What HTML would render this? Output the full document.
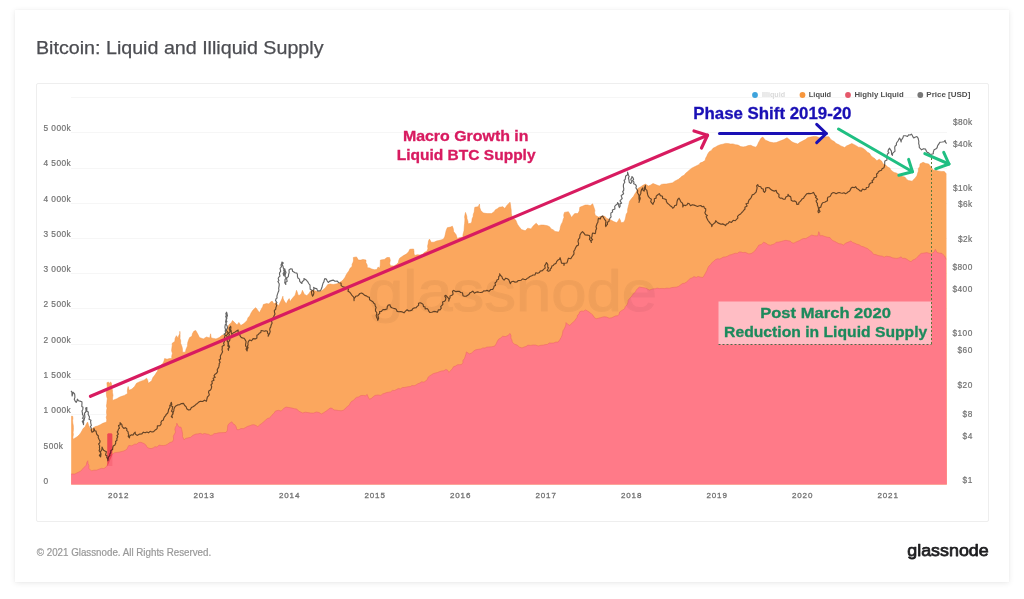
<!DOCTYPE html>
<html><head><meta charset="utf-8"><title>Bitcoin: Liquid and Illiquid Supply</title>
<style>
html,body{margin:0;padding:0}
body{width:1024px;height:599px;background:#fff;position:relative;overflow:hidden;font-family:"Liberation Sans",sans-serif}
.card{position:absolute;left:15px;top:10px;width:994px;height:572px;background:#fff;box-shadow:0 1px 6px rgba(0,0,0,0.09),0 0 1px rgba(0,0,0,0.05)}
.box{position:absolute;left:36px;top:83px;width:951px;height:437px;border:1px solid #eeeeee;border-radius:2px;background:#fff}
svg{position:absolute;left:0;top:0}
.sans{font-family:"Liberation Sans",sans-serif}
.ax{font-weight:normal;letter-spacing:0.42px;stroke:#737373;stroke-width:0.2px}
.axb{font-weight:normal;letter-spacing:0.85px;stroke:#727272;stroke-width:0.3px}
.lg{font-weight:bold}
</style></head><body>
<div class="card"></div>
<div class="box"></div>
<svg width="1024" height="599" viewBox="0 0 1024 599">
<text x="36" y="54" font-size="18.6" textLength="287.5" lengthAdjust="spacingAndGlyphs" fill="#4c4d52" stroke="#4c4d52" stroke-width="0.25" class="sans">Bitcoin: Liquid and Illiquid Supply</text>
<line x1="71" x2="947" y1="484.5" y2="484.5" stroke="#f6f6f6" stroke-width="1"/>
<line x1="71" x2="947" y1="449.5" y2="449.5" stroke="#f6f6f6" stroke-width="1"/>
<line x1="71" x2="947" y1="414.5" y2="414.5" stroke="#f6f6f6" stroke-width="1"/>
<line x1="71" x2="947" y1="379.5" y2="379.5" stroke="#f6f6f6" stroke-width="1"/>
<line x1="71" x2="947" y1="344.5" y2="344.5" stroke="#f6f6f6" stroke-width="1"/>
<line x1="71" x2="947" y1="308.5" y2="308.5" stroke="#f6f6f6" stroke-width="1"/>
<line x1="71" x2="947" y1="273.5" y2="273.5" stroke="#f6f6f6" stroke-width="1"/>
<line x1="71" x2="947" y1="238.5" y2="238.5" stroke="#f6f6f6" stroke-width="1"/>
<line x1="71" x2="947" y1="203.5" y2="203.5" stroke="#f6f6f6" stroke-width="1"/>
<line x1="71" x2="947" y1="168.5" y2="168.5" stroke="#f6f6f6" stroke-width="1"/>
<line x1="71" x2="947" y1="132.5" y2="132.5" stroke="#f6f6f6" stroke-width="1"/>
<line x1="71" x2="947" y1="97.5" y2="97.5" stroke="#f6f6f6" stroke-width="1"/>
<path d="M71.2,484.5 L71.2,416.3 L72.7,416.3 L72.9,418.4 L72.6,420.6 L72.8,423.1 L73.3,425.5 L73.4,427.7 L73.4,429.8 L73.1,432.5 L73.4,434.5 L72.9,437.2 L73.1,439.2 L75.3,437.9 L77.4,436.6 L79.3,434.8 L80.7,432.9 L81.9,430.9 L83.1,428.5 L85.0,427.1 L86.1,424.6 L87.6,422.0 L88.8,425.9 L90.8,429.7 L93.3,427.8 L95.4,426.6 L97.7,425.9 L100.3,424.7 L102.8,423.3 L106.6,422.0 L106.7,419.4 L106.2,417.2 L106.9,415.0 L106.5,412.8 L106.6,410.3 L107.0,408.2 L106.4,405.9 L106.8,403.7 L107.0,401.1 L107.3,398.7 L106.7,396.7 L106.4,394.2 L106.3,392.0 L107.1,389.7 L107.3,387.2 L107.1,385.1 L106.9,382.7 L108.5,382.0 L109.2,384.0 L110.4,382.0 L111.3,382.7 L111.6,385.1 L111.7,387.9 L112.4,390.0 L112.5,392.7 L113.0,395.3 L112.5,398.2 L112.7,400.5 L114.2,399.8 L116.9,398.7 L119.3,397.3 L121.8,396.3 L124.4,395.4 L127.6,393.5 L127.3,391.1 L127.6,388.6 L128.2,386.5 L129.1,390.3 L132.0,389.0 L134.6,386.5 L136.5,383.3 L140.3,381.4 L144.1,380.2 L146.6,378.2 L147.9,380.8 L148.3,383.3 L151.7,380.8 L152.9,377.6 L154.9,375.1 L156.0,373.3 L157.4,371.3 L158.2,368.9 L159.8,367.3 L161.0,365.0 L162.8,363.5 L164.0,361.1 L164.6,358.6 L167.1,359.2 L169.4,358.6 L171.8,358.6 L171.7,356.3 L172.4,353.3 L171.6,350.8 L171.8,348.4 L172.2,345.7 L172.2,343.3 L174.8,341.4 L175.1,338.4 L176.4,335.7 L178.2,338.2 L178.6,335.9 L179.8,333.8 L179.8,331.3 L180.0,333.7 L180.1,335.8 L180.0,338.6 L180.7,340.8 L180.6,343.3 L181.5,345.3 L182.2,347.6 L182.5,349.6 L182.4,352.2 L185.5,352.2 L185.9,349.8 L186.7,347.7 L187.5,345.9 L187.7,342.8 L188.5,340.2 L189.6,337.6 L191.9,336.3 L192.4,333.8 L193.8,331.3 L195.7,330.4 L197.6,333.8 L199.5,337.6 L203.3,338.9 L206.5,337.0 L209.7,338.0 L210.6,333.8 L211.2,338.0 L213.6,338.4 L216.0,338.9 L219.2,337.6 L222.4,335.1 L224.9,335.1 L225.9,332.1 L227.4,329.4 L228.2,326.6 L229.3,324.3 L231.2,322.9 L232.5,320.5 L235.1,323.0 L237.0,324.9 L238.9,322.4 L240.8,325.5 L243.9,323.6 L245.5,322.0 L247.1,320.5 L248.0,317.8 L249.7,316.0 L251.1,312.9 L252.8,310.3 L255.4,307.8 L256.0,307.9 L257.5,309.9 L259.4,312.8 L261.4,308.9 L262.7,306.7 L263.3,304.5 L266.7,303.5 L268.7,304.0 L270.1,302.4 L272.1,301.1 L274.1,304.0 L275.5,302.5 L277.0,304.0 L278.5,305.9 L279.7,303.3 L280.9,301.1 L281.9,298.9 L282.9,296.2 L283.2,298.9 L284.3,301.1 L286.3,304.0 L287.5,301.1 L289.2,298.6 L290.2,302.0 L291.1,300.0 L292.6,298.1 L295.1,295.2 L295.8,292.9 L296.5,290.3 L297.4,292.5 L298.0,295.2 L299.9,295.2 L301.5,293.2 L302.4,290.3 L304.3,294.2 L306.8,295.7 L309.2,293.2 L310.7,290.8 L313.6,290.3 L316.5,291.3 L319.5,291.8 L322.4,290.3 L325.3,287.9 L327.8,284.5 L330.2,284.0 L333.1,284.5 L336.1,284.0 L339.5,283.0 L340.0,282.3 L342.0,281.0 L343.6,279.3 L345.1,277.2 L346.1,275.0 L347.5,272.7 L348.9,270.9 L350.1,268.2 L352.1,266.4 L352.1,264.2 L353.2,262.0 L353.5,260.1 L353.3,257.5 L356.5,256.9 L358.4,260.1 L360.9,260.1 L362.9,259.4 L366.0,260.1 L365.9,262.6 L367.2,265.0 L367.3,267.7 L369.6,267.9 L371.7,269.0 L374.2,269.7 L376.8,269.6 L378.1,267.0 L379.6,268.3 L380.2,265.6 L380.3,263.0 L380.4,260.1 L384.4,259.4 L387.0,257.5 L389.5,257.5 L390.3,260.3 L389.7,263.2 L390.4,265.8 L394.0,266.0 L396.4,264.5 L398.4,262.6 L398.7,260.5 L399.7,258.2 L401.5,256.9 L403.5,255.6 L406.4,254.1 L408.6,251.8 L409.8,249.3 L413.6,249.0 L414.0,251.4 L414.0,253.3 L414.6,255.6 L417.3,254.7 L420.0,255.0 L422.5,254.3 L424.5,252.3 L427.0,251.2 L427.9,248.8 L427.6,246.1 L428.2,243.6 L428.5,241.0 L429.5,239.1 L431.2,242.3 L434.0,242.2 L436.5,241.0 L438.8,240.6 L441.1,239.9 L443.5,239.1 L444.8,236.5 L445.4,234.0 L446.1,230.7 L447.3,227.7 L450.4,227.1 L452.4,226.2 L453.3,228.8 L453.6,231.5 L456.0,234.6 L457.3,238.4 L460.1,237.4 L463.0,237.1 L462.9,235.0 L463.5,232.6 L464.0,230.7 L464.2,228.2 L464.3,226.2 L464.6,223.7 L464.8,221.2 L464.9,219.0 L464.6,217.0 L465.0,214.6 L465.5,212.4 L466.8,216.2 L467.0,218.8 L467.9,221.2 L468.1,223.8 L471.2,223.2 L471.9,221.2 L472.1,218.8 L473.1,216.8 L473.3,214.3 L474.2,212.1 L474.4,209.8 L474.8,207.3 L478.2,206.7 L479.5,204.1 L479.7,207.4 L480.8,210.5 L483.3,213.0 L487.1,213.6 L491.5,213.6 L494.1,211.7 L495.4,209.8 L497.4,208.7 L499.2,207.3 L503.0,206.7 L504.9,208.6 L506.8,205.4 L508.4,203.9 L510.0,202.2 L510.5,204.7 L510.8,207.5 L511.2,209.8 L511.3,213.2 L511.9,216.2 L513.5,218.3 L515.7,220.0 L516.7,222.4 L517.4,224.2 L518.8,226.3 L521.4,229.5 L525.2,230.8 L527.7,228.2 L530.9,228.9 L533.4,225.7 L536.2,223.2 L538.5,225.7 L541.0,225.0 L543.6,225.1 L547.4,225.7 L549.6,226.8 L551.2,228.9 L553.4,229.9 L555.0,231.4 L558.8,232.1 L559.9,229.9 L560.4,227.0 L561.2,224.4 L562.6,221.9 L563.2,219.4 L564.0,217.5 L563.7,215.0 L564.5,212.4 L568.4,211.7 L570.3,214.9 L571.5,217.5 L573.0,215.5 L574.7,213.6 L577.9,213.6 L579.4,210.8 L579.8,207.3 L583.0,206.0 L585.1,205.1 L587.7,205.0 L590.2,205.7 L592.7,203.8 L593.4,205.9 L594.2,208.2 L594.9,210.4 L594.6,212.6 L595.2,215.2 L598.4,217.1 L600.6,216.5 L602.9,215.9 L605.1,216.6 L606.7,218.4 L610.5,219.7 L613.6,221.6 L616.8,222.8 L618.2,220.7 L619.4,218.4 L620.6,220.7 L620.9,222.8 L623.8,222.2 L625.0,220.0 L625.7,217.1 L626.2,214.3 L627.6,212.1 L627.6,209.4 L628.3,206.4 L628.9,204.2 L629.5,201.3 L632.0,198.1 L633.6,196.3 L634.6,194.3 L635.9,192.4 L637.8,188.6 L640.9,186.7 L643.0,185.3 L645.4,184.1 L648.5,186.0 L650.8,184.9 L653.0,183.5 L656.2,184.8 L659.3,186.0 L661.4,184.4 L663.8,184.1 L666.4,184.0 L668.9,183.5 L672.7,182.8 L674.3,181.4 L676.5,180.3 L678.5,179.3 L680.3,177.8 L681.9,176.3 L684.1,175.2 L685.7,173.2 L687.9,171.4 L689.8,169.7 L691.7,168.2 L695.5,166.3 L699.3,164.4 L700.0,163.1 L702.6,162.1 L705.1,160.5 L705.7,158.1 L706.8,156.2 L707.6,154.2 L709.2,151.8 L711.4,150.4 L713.0,148.3 L715.2,147.2 L717.7,145.7 L720.3,144.7 L722.9,144.2 L725.4,143.4 L727.9,143.5 L730.5,144.0 L733.0,143.9 L735.5,144.7 L738.1,145.1 L740.6,146.6 L743.2,146.9 L745.7,146.6 L748.2,145.6 L750.8,145.3 L753.2,146.5 L755.9,147.2 L757.5,145.1 L758.4,142.8 L759.6,140.7 L760.9,138.3 L762.8,137.1 L765.4,140.2 L767.6,141.0 L769.8,142.1 L773.6,142.8 L776.2,142.6 L778.7,141.5 L781.2,140.6 L783.8,139.6 L787.0,137.7 L790.1,140.2 L791.9,141.8 L793.9,142.8 L797.8,144.0 L799.6,142.6 L801.6,141.5 L805.4,139.6 L807.7,137.7 L810.4,137.1 L814.3,136.4 L816.9,136.7 L819.3,137.7 L821.8,136.9 L824.4,137.1 L826.7,136.7 L829.0,136.8 L830.3,139.0 L832.2,140.4 L834.3,141.6 L836.1,143.5 L838.6,144.5 L840.8,145.9 L844.7,147.5 L846.5,145.9 L848.6,145.1 L851.8,143.5 L854.3,144.7 L856.5,145.9 L858.4,147.2 L860.8,147.4 L862.8,148.2 L865.3,150.0 L867.5,152.2 L869.5,153.3 L870.7,155.3 L872.2,156.9 L874.8,158.6 L876.9,160.8 L879.2,159.2 L881.6,161.1 L883.1,163.9 L885.7,165.1 L887.8,167.1 L889.8,168.0 L891.0,170.2 L894.1,172.5 L896.3,173.0 L898.3,174.2 L900.4,174.9 L902.6,176.4 L905.1,177.2 L906.5,179.2 L908.2,180.4 L912.2,181.2 L913.7,179.4 L915.3,178.0 L916.9,175.7 L917.6,173.3 L918.4,171.1 L918.3,168.7 L919.8,166.4 L920.0,163.9 L923.1,162.3 L925.8,163.5 L928.6,163.9 L931.0,167.1 L933.3,170.2 L935.7,170.2 L938.0,171.0 L941.1,171.4 L944.3,171.5 L946.4,174.1 L946.8,484.5Z" fill="#fba75e"/>
<path d="M71.2,416.3 L72.7,416.3 L72.9,418.4 L72.6,420.6 L72.8,423.1 L73.3,425.5 L73.4,427.7 L73.4,429.8 L73.1,432.5 L73.4,434.5 L72.9,437.2 L73.1,439.2 L75.3,437.9 L77.4,436.6 L79.3,434.8 L80.7,432.9 L81.9,430.9 L83.1,428.5 L85.0,427.1 L86.1,424.6 L87.6,422.0 L88.8,425.9 L90.8,429.7 L93.3,427.8 L95.4,426.6 L97.7,425.9 L100.3,424.7 L102.8,423.3 L106.6,422.0 L106.7,419.4 L106.2,417.2 L106.9,415.0 L106.5,412.8 L106.6,410.3 L107.0,408.2 L106.4,405.9 L106.8,403.7 L107.0,401.1 L107.3,398.7 L106.7,396.7 L106.4,394.2 L106.3,392.0 L107.1,389.7 L107.3,387.2 L107.1,385.1 L106.9,382.7 L108.5,382.0 L109.2,384.0 L110.4,382.0 L111.3,382.7 L111.6,385.1 L111.7,387.9 L112.4,390.0 L112.5,392.7 L113.0,395.3 L112.5,398.2 L112.7,400.5 L114.2,399.8 L116.9,398.7 L119.3,397.3 L121.8,396.3 L124.4,395.4 L127.6,393.5 L127.3,391.1 L127.6,388.6 L128.2,386.5 L129.1,390.3 L132.0,389.0 L134.6,386.5 L136.5,383.3 L140.3,381.4 L144.1,380.2 L146.6,378.2 L147.9,380.8 L148.3,383.3 L151.7,380.8 L152.9,377.6 L154.9,375.1 L156.0,373.3 L157.4,371.3 L158.2,368.9 L159.8,367.3 L161.0,365.0 L162.8,363.5 L164.0,361.1 L164.6,358.6 L167.1,359.2 L169.4,358.6 L171.8,358.6 L171.7,356.3 L172.4,353.3 L171.6,350.8 L171.8,348.4 L172.2,345.7 L172.2,343.3 L174.8,341.4 L175.1,338.4 L176.4,335.7 L178.2,338.2 L178.6,335.9 L179.8,333.8 L179.8,331.3 L180.0,333.7 L180.1,335.8 L180.0,338.6 L180.7,340.8 L180.6,343.3 L181.5,345.3 L182.2,347.6 L182.5,349.6 L182.4,352.2 L185.5,352.2 L185.9,349.8 L186.7,347.7 L187.5,345.9 L187.7,342.8 L188.5,340.2 L189.6,337.6 L191.9,336.3 L192.4,333.8 L193.8,331.3 L195.7,330.4 L197.6,333.8 L199.5,337.6 L203.3,338.9 L206.5,337.0 L209.7,338.0 L210.6,333.8 L211.2,338.0 L213.6,338.4 L216.0,338.9 L219.2,337.6 L222.4,335.1 L224.9,335.1 L225.9,332.1 L227.4,329.4 L228.2,326.6 L229.3,324.3 L231.2,322.9 L232.5,320.5 L235.1,323.0 L237.0,324.9 L238.9,322.4 L240.8,325.5 L243.9,323.6 L245.5,322.0 L247.1,320.5 L248.0,317.8 L249.7,316.0 L251.1,312.9 L252.8,310.3 L255.4,307.8 L256.0,307.9 L257.5,309.9 L259.4,312.8 L261.4,308.9 L262.7,306.7 L263.3,304.5 L266.7,303.5 L268.7,304.0 L270.1,302.4 L272.1,301.1 L274.1,304.0 L275.5,302.5 L277.0,304.0 L278.5,305.9 L279.7,303.3 L280.9,301.1 L281.9,298.9 L282.9,296.2 L283.2,298.9 L284.3,301.1 L286.3,304.0 L287.5,301.1 L289.2,298.6 L290.2,302.0 L291.1,300.0 L292.6,298.1 L295.1,295.2 L295.8,292.9 L296.5,290.3 L297.4,292.5 L298.0,295.2 L299.9,295.2 L301.5,293.2 L302.4,290.3 L304.3,294.2 L306.8,295.7 L309.2,293.2 L310.7,290.8 L313.6,290.3 L316.5,291.3 L319.5,291.8 L322.4,290.3 L325.3,287.9 L327.8,284.5 L330.2,284.0 L333.1,284.5 L336.1,284.0 L339.5,283.0 L340.0,282.3 L342.0,281.0 L343.6,279.3 L345.1,277.2 L346.1,275.0 L347.5,272.7 L348.9,270.9 L350.1,268.2 L352.1,266.4 L352.1,264.2 L353.2,262.0 L353.5,260.1 L353.3,257.5 L356.5,256.9 L358.4,260.1 L360.9,260.1 L362.9,259.4 L366.0,260.1 L365.9,262.6 L367.2,265.0 L367.3,267.7 L369.6,267.9 L371.7,269.0 L374.2,269.7 L376.8,269.6 L378.1,267.0 L379.6,268.3 L380.2,265.6 L380.3,263.0 L380.4,260.1 L384.4,259.4 L387.0,257.5 L389.5,257.5 L390.3,260.3 L389.7,263.2 L390.4,265.8 L394.0,266.0 L396.4,264.5 L398.4,262.6 L398.7,260.5 L399.7,258.2 L401.5,256.9 L403.5,255.6 L406.4,254.1 L408.6,251.8 L409.8,249.3 L413.6,249.0 L414.0,251.4 L414.0,253.3 L414.6,255.6 L417.3,254.7 L420.0,255.0 L422.5,254.3 L424.5,252.3 L427.0,251.2 L427.9,248.8 L427.6,246.1 L428.2,243.6 L428.5,241.0 L429.5,239.1 L431.2,242.3 L434.0,242.2 L436.5,241.0 L438.8,240.6 L441.1,239.9 L443.5,239.1 L444.8,236.5 L445.4,234.0 L446.1,230.7 L447.3,227.7 L450.4,227.1 L452.4,226.2 L453.3,228.8 L453.6,231.5 L456.0,234.6 L457.3,238.4 L460.1,237.4 L463.0,237.1 L462.9,235.0 L463.5,232.6 L464.0,230.7 L464.2,228.2 L464.3,226.2 L464.6,223.7 L464.8,221.2 L464.9,219.0 L464.6,217.0 L465.0,214.6 L465.5,212.4 L466.8,216.2 L467.0,218.8 L467.9,221.2 L468.1,223.8 L471.2,223.2 L471.9,221.2 L472.1,218.8 L473.1,216.8 L473.3,214.3 L474.2,212.1 L474.4,209.8 L474.8,207.3 L478.2,206.7 L479.5,204.1 L479.7,207.4 L480.8,210.5 L483.3,213.0 L487.1,213.6 L491.5,213.6 L494.1,211.7 L495.4,209.8 L497.4,208.7 L499.2,207.3 L503.0,206.7 L504.9,208.6 L506.8,205.4 L508.4,203.9 L510.0,202.2 L510.5,204.7 L510.8,207.5 L511.2,209.8 L511.3,213.2 L511.9,216.2 L513.5,218.3 L515.7,220.0 L516.7,222.4 L517.4,224.2 L518.8,226.3 L521.4,229.5 L525.2,230.8 L527.7,228.2 L530.9,228.9 L533.4,225.7 L536.2,223.2 L538.5,225.7 L541.0,225.0 L543.6,225.1 L547.4,225.7 L549.6,226.8 L551.2,228.9 L553.4,229.9 L555.0,231.4 L558.8,232.1 L559.9,229.9 L560.4,227.0 L561.2,224.4 L562.6,221.9 L563.2,219.4 L564.0,217.5 L563.7,215.0 L564.5,212.4 L568.4,211.7 L570.3,214.9 L571.5,217.5 L573.0,215.5 L574.7,213.6 L577.9,213.6 L579.4,210.8 L579.8,207.3 L583.0,206.0 L585.1,205.1 L587.7,205.0 L590.2,205.7 L592.7,203.8 L593.4,205.9 L594.2,208.2 L594.9,210.4 L594.6,212.6 L595.2,215.2 L598.4,217.1 L600.6,216.5 L602.9,215.9 L605.1,216.6 L606.7,218.4 L610.5,219.7 L613.6,221.6 L616.8,222.8 L618.2,220.7 L619.4,218.4 L620.6,220.7 L620.9,222.8 L623.8,222.2 L625.0,220.0 L625.7,217.1 L626.2,214.3 L627.6,212.1 L627.6,209.4 L628.3,206.4 L628.9,204.2 L629.5,201.3 L632.0,198.1 L633.6,196.3 L634.6,194.3 L635.9,192.4 L637.8,188.6 L640.9,186.7 L643.0,185.3 L645.4,184.1 L648.5,186.0 L650.8,184.9 L653.0,183.5 L656.2,184.8 L659.3,186.0 L661.4,184.4 L663.8,184.1 L666.4,184.0 L668.9,183.5 L672.7,182.8 L674.3,181.4 L676.5,180.3 L678.5,179.3 L680.3,177.8 L681.9,176.3 L684.1,175.2 L685.7,173.2 L687.9,171.4 L689.8,169.7 L691.7,168.2 L695.5,166.3 L699.3,164.4 L700.0,163.1 L702.6,162.1 L705.1,160.5 L705.7,158.1 L706.8,156.2 L707.6,154.2 L709.2,151.8 L711.4,150.4 L713.0,148.3 L715.2,147.2 L717.7,145.7 L720.3,144.7 L722.9,144.2 L725.4,143.4 L727.9,143.5 L730.5,144.0 L733.0,143.9 L735.5,144.7 L738.1,145.1 L740.6,146.6 L743.2,146.9 L745.7,146.6 L748.2,145.6 L750.8,145.3 L753.2,146.5 L755.9,147.2 L757.5,145.1 L758.4,142.8 L759.6,140.7 L760.9,138.3 L762.8,137.1 L765.4,140.2 L767.6,141.0 L769.8,142.1 L773.6,142.8 L776.2,142.6 L778.7,141.5 L781.2,140.6 L783.8,139.6 L787.0,137.7 L790.1,140.2 L791.9,141.8 L793.9,142.8 L797.8,144.0 L799.6,142.6 L801.6,141.5 L805.4,139.6 L807.7,137.7 L810.4,137.1 L814.3,136.4 L816.9,136.7 L819.3,137.7 L821.8,136.9 L824.4,137.1 L826.7,136.7 L829.0,136.8 L830.3,139.0 L832.2,140.4 L834.3,141.6 L836.1,143.5 L838.6,144.5 L840.8,145.9 L844.7,147.5 L846.5,145.9 L848.6,145.1 L851.8,143.5 L854.3,144.7 L856.5,145.9 L858.4,147.2 L860.8,147.4 L862.8,148.2 L865.3,150.0 L867.5,152.2 L869.5,153.3 L870.7,155.3 L872.2,156.9 L874.8,158.6 L876.9,160.8 L879.2,159.2 L881.6,161.1 L883.1,163.9 L885.7,165.1 L887.8,167.1 L889.8,168.0 L891.0,170.2 L894.1,172.5 L896.3,173.0 L898.3,174.2 L900.4,174.9 L902.6,176.4 L905.1,177.2 L906.5,179.2 L908.2,180.4 L912.2,181.2 L913.7,179.4 L915.3,178.0 L916.9,175.7 L917.6,173.3 L918.4,171.1 L918.3,168.7 L919.8,166.4 L920.0,163.9 L923.1,162.3 L925.8,163.5 L928.6,163.9 L931.0,167.1 L933.3,170.2 L935.7,170.2 L938.0,171.0 L941.1,171.4 L944.3,171.5 L946.4,174.1" fill="none" stroke="#f0954a" stroke-width="0.7" stroke-opacity="0.7" stroke-linejoin="round"/>
<path d="M71.2,484.5 L71.2,474.0 L74.9,474.0 L76.8,473.0 L78.7,472.1 L80.9,471.0 L82.5,469.0 L84.4,467.1 L86.3,465.1 L86.7,462.8 L87.8,460.7 L88.0,463.4 L89.0,465.6 L88.8,468.3 L91.4,470.9 L93.9,470.2 L96.5,470.2 L99.1,469.2 L101.5,468.3 L103.9,468.6 L106.0,467.1 L107.3,465.1 L108.5,463.1 L108.9,460.3 L110.3,458.4 L110.9,456.2 L112.3,454.4 L114.3,452.8 L116.8,452.4 L118.9,452.2 L121.0,451.7 L123.1,451.2 L125.0,450.4 L126.9,449.3 L127.8,447.2 L128.8,445.5 L131.8,445.8 L134.6,444.2 L136.8,444.1 L138.7,442.5 L140.9,442.3 L144.1,443.6 L145.9,445.0 L147.2,447.4 L149.1,448.3 L151.1,448.6 L153.2,448.0 L154.9,446.7 L157.1,447.1 L159.0,445.1 L161.2,445.5 L163.4,445.6 L165.6,445.2 L167.6,444.2 L169.9,442.5 L172.6,441.7 L173.6,439.1 L173.3,436.3 L174.5,434.0 L175.5,432.1 L174.9,429.4 L175.4,427.2 L176.7,425.3 L176.8,423.2 L177.8,425.2 L179.0,427.1 L180.9,427.1 L181.7,429.6 L182.2,431.9 L182.6,434.1 L182.5,436.6 L184.1,439.8 L185.8,438.3 L187.9,437.9 L190.7,437.3 L193.0,435.3 L196.0,434.0 L198.1,433.9 L200.2,433.3 L202.4,434.2 L204.5,433.5 L206.6,434.0 L208.5,434.3 L210.4,435.4 L212.5,435.0 L214.2,433.6 L216.2,433.5 L218.6,432.8 L221.1,432.7 L223.5,432.6 L226.0,432.5 L227.3,430.5 L227.5,428.4 L227.8,425.5 L228.9,423.7 L231.9,421.8 L233.0,423.8 L234.8,424.7 L236.1,426.8 L236.8,429.6 L239.0,429.7 L241.0,428.5 L243.4,428.7 L245.5,427.6 L247.7,426.3 L250.0,425.7 L251.8,424.9 L253.9,424.7 L256.0,425.5 L257.8,426.7 L259.6,425.0 L261.8,423.4 L263.7,421.8 L265.4,420.3 L267.3,418.6 L269.5,417.9 L271.0,416.5 L272.6,414.4 L274.3,412.9 L275.4,411.1 L278.3,410.3 L281.2,411.1 L282.8,409.4 L284.2,408.0 L286.1,407.1 L289.0,407.5 L292.0,408.1 L294.5,408.7 L296.9,409.1 L298.5,411.0 L300.6,412.0 L302.7,413.0 L305.3,412.2 L307.9,412.6 L310.5,413.0 L313.5,413.1 L316.4,412.0 L319.1,412.5 L321.3,414.0 L323.7,412.7 L326.2,411.1 L328.0,409.7 L330.1,408.1 L332.2,408.3 L333.9,410.0 L335.9,410.1 L338.5,410.5 L341.1,410.8 L343.8,410.1 L345.6,408.1 L347.7,406.2 L349.4,405.1 L350.2,403.1 L351.6,401.3 L353.5,400.4 L354.9,398.7 L356.4,397.4 L358.7,396.9 L360.8,395.6 L363.3,395.4 L365.4,395.8 L367.2,394.5 L368.1,397.0 L369.5,399.3 L371.5,398.3 L373.1,396.9 L375.0,395.4 L377.9,395.0 L380.9,395.4 L382.6,394.0 L384.8,393.3 L386.7,392.5 L388.7,392.2 L390.6,391.9 L392.5,390.4 L394.5,390.5 L396.4,389.6 L398.3,388.5 L400.5,388.9 L402.3,387.6 L404.9,387.4 L407.5,386.8 L410.2,386.6 L412.0,385.5 L414.2,385.8 L416.2,384.8 L418.0,383.7 L420.0,383.0 L421.7,381.8 L424.0,382.2 L425.8,380.8 L427.3,379.6 L428.2,377.1 L429.7,375.9 L431.6,374.7 L433.4,373.6 L435.5,373.0 L437.5,372.5 L439.4,371.7 L441.4,371.0 L443.8,370.8 L445.9,369.5 L447.7,370.3 L448.8,372.4 L450.8,370.5 L452.3,368.8 L453.7,366.6 L455.6,366.0 L457.4,364.8 L459.5,364.7 L461.5,364.6 L462.9,362.7 L463.0,360.2 L464.4,358.8 L465.2,356.5 L465.9,354.3 L466.4,351.9 L469.3,353.9 L471.5,353.2 L473.4,351.3 L475.2,350.0 L478.1,349.3 L481.0,349.0 L482.8,347.9 L485.0,348.1 L486.8,347.1 L488.8,347.0 L491.8,346.8 L494.7,346.1 L496.1,344.0 L497.2,341.6 L498.6,339.2 L500.9,337.9 L502.5,336.3 L505.5,336.5 L508.4,335.3 L509.9,333.4 L511.0,335.4 L510.9,338.1 L511.9,339.9 L512.3,342.1 L514.4,344.2 L517.1,345.1 L519.3,347.0 L522.0,348.0 L524.1,347.0 L526.1,346.5 L527.9,345.1 L530.5,345.4 L533.1,345.0 L535.7,345.1 L538.3,346.0 L540.9,345.3 L543.5,345.1 L545.4,344.6 L547.5,344.4 L549.2,343.0 L551.3,343.1 L553.6,343.0 L555.9,342.1 L558.2,342.1 L559.8,339.7 L561.1,337.5 L562.1,335.3 L562.5,333.3 L563.0,330.7 L564.1,329.1 L565.1,327.1 L565.9,324.9 L566.0,322.6 L567.6,324.2 L569.9,325.5 L571.3,323.7 L573.0,322.3 L574.8,320.7 L575.9,319.0 L577.1,317.4 L577.5,315.2 L579.0,314.1 L579.6,311.9 L581.4,311.1 L583.7,311.2 L585.5,309.9 L587.9,311.3 L590.4,312.9 L591.8,314.3 L593.2,315.6 L594.4,317.7 L596.2,318.7 L598.2,318.3 L600.2,317.8 L602.2,317.2 L604.1,316.8 L606.7,317.1 L609.2,318.2 L611.9,317.7 L613.7,316.8 L615.6,315.9 L617.7,315.8 L619.1,314.3 L619.7,311.9 L622.1,310.3 L624.6,308.9 L625.2,306.7 L627.1,304.7 L627.9,302.5 L628.2,300.2 L629.5,298.5 L631.1,297.0 L632.3,295.3 L633.5,293.6 L635.3,292.2 L636.3,290.2 L637.8,288.4 L639.5,287.1 L642.4,287.6 L645.4,288.1 L647.4,288.9 L649.3,290.1 L651.3,289.4 L653.1,288.8 L655.2,288.8 L657.1,288.1 L659.5,288.6 L662.0,288.4 L664.5,288.6 L666.9,288.1 L669.4,288.3 L671.7,287.6 L674.1,287.3 L676.6,287.1 L678.8,286.3 L680.4,285.0 L682.4,283.6 L684.5,283.2 L686.7,281.9 L688.6,280.0 L690.3,278.4 L692.2,277.9 L694.0,276.6 L696.2,277.4 L698.1,276.4 L700.4,277.2 L703.0,277.4 L704.3,275.3 L705.6,272.9 L706.9,270.5 L707.8,268.1 L708.9,266.0 L710.6,264.7 L711.8,262.7 L713.8,261.2 L715.5,259.6 L717.7,258.8 L719.8,259.1 L721.7,258.1 L723.4,257.1 L725.5,256.9 L727.4,256.3 L729.3,255.2 L731.4,254.6 L733.3,253.9 L735.3,253.2 L737.3,253.4 L739.1,252.0 L741.1,252.0 L743.0,252.7 L745.1,252.3 L746.9,253.1 L748.9,253.9 L751.1,253.6 L753.0,252.4 L754.8,251.0 L756.2,249.1 L757.5,247.2 L758.7,245.2 L761.5,244.4 L763.6,242.2 L766.0,243.2 L768.0,244.7 L770.4,245.2 L772.5,244.5 L774.5,243.9 L776.2,242.2 L778.7,242.1 L781.2,241.5 L783.6,240.8 L786.0,240.3 L788.0,240.8 L790.1,241.1 L791.8,242.7 L793.8,243.2 L795.6,242.2 L797.8,241.3 L799.7,240.5 L801.6,239.3 L803.6,238.5 L805.8,238.6 L807.6,237.5 L809.5,236.4 L811.7,235.1 L814.6,235.8 L817.6,235.9 L818.3,234.0 L818.7,231.7 L819.7,233.6 L820.0,235.9 L822.1,235.5 L824.0,236.2 L826.1,236.9 L828.0,237.3 L830.0,237.6 L831.3,239.4 L833.0,240.7 L834.9,241.4 L836.8,242.6 L839.0,243.7 L841.4,244.0 L843.4,245.1 L845.1,243.6 L847.0,242.6 L849.2,241.8 L851.0,240.9 L852.6,242.5 L854.8,243.2 L856.8,244.2 L859.1,244.8 L861.2,246.2 L863.5,246.8 L865.6,247.8 L867.5,248.5 L869.3,250.1 L871.6,251.7 L873.5,254.3 L875.8,254.6 L878.0,255.5 L880.2,255.9 L882.2,256.1 L884.1,257.2 L886.2,256.2 L888.2,256.5 L890.2,256.8 L892.3,257.8 L894.7,258.2 L896.9,258.4 L899.1,257.9 L901.0,256.8 L902.7,258.4 L904.9,258.3 L906.9,259.3 L908.9,260.7 L911.1,261.8 L912.6,260.1 L914.5,259.4 L916.1,258.4 L917.7,256.8 L919.4,254.9 L921.1,253.4 L924.0,253.1 L926.9,252.6 L929.3,253.4 L931.9,253.4 L934.1,252.1 L935.3,249.3 L937.0,252.6 L939.5,253.1 L942.0,253.4 L944.5,255.9 L946.1,259.3 L946.8,484.5Z" fill="#ff7a88"/>
<path d="M71.2,474.0 L74.9,474.0 L76.8,473.0 L78.7,472.1 L80.9,471.0 L82.5,469.0 L84.4,467.1 L86.3,465.1 L86.7,462.8 L87.8,460.7 L88.0,463.4 L89.0,465.6 L88.8,468.3 L91.4,470.9 L93.9,470.2 L96.5,470.2 L99.1,469.2 L101.5,468.3 L103.9,468.6 L106.0,467.1 L107.3,465.1 L108.5,463.1 L108.9,460.3 L110.3,458.4 L110.9,456.2 L112.3,454.4 L114.3,452.8 L116.8,452.4 L118.9,452.2 L121.0,451.7 L123.1,451.2 L125.0,450.4 L126.9,449.3 L127.8,447.2 L128.8,445.5 L131.8,445.8 L134.6,444.2 L136.8,444.1 L138.7,442.5 L140.9,442.3 L144.1,443.6 L145.9,445.0 L147.2,447.4 L149.1,448.3 L151.1,448.6 L153.2,448.0 L154.9,446.7 L157.1,447.1 L159.0,445.1 L161.2,445.5 L163.4,445.6 L165.6,445.2 L167.6,444.2 L169.9,442.5 L172.6,441.7 L173.6,439.1 L173.3,436.3 L174.5,434.0 L175.5,432.1 L174.9,429.4 L175.4,427.2 L176.7,425.3 L176.8,423.2 L177.8,425.2 L179.0,427.1 L180.9,427.1 L181.7,429.6 L182.2,431.9 L182.6,434.1 L182.5,436.6 L184.1,439.8 L185.8,438.3 L187.9,437.9 L190.7,437.3 L193.0,435.3 L196.0,434.0 L198.1,433.9 L200.2,433.3 L202.4,434.2 L204.5,433.5 L206.6,434.0 L208.5,434.3 L210.4,435.4 L212.5,435.0 L214.2,433.6 L216.2,433.5 L218.6,432.8 L221.1,432.7 L223.5,432.6 L226.0,432.5 L227.3,430.5 L227.5,428.4 L227.8,425.5 L228.9,423.7 L231.9,421.8 L233.0,423.8 L234.8,424.7 L236.1,426.8 L236.8,429.6 L239.0,429.7 L241.0,428.5 L243.4,428.7 L245.5,427.6 L247.7,426.3 L250.0,425.7 L251.8,424.9 L253.9,424.7 L256.0,425.5 L257.8,426.7 L259.6,425.0 L261.8,423.4 L263.7,421.8 L265.4,420.3 L267.3,418.6 L269.5,417.9 L271.0,416.5 L272.6,414.4 L274.3,412.9 L275.4,411.1 L278.3,410.3 L281.2,411.1 L282.8,409.4 L284.2,408.0 L286.1,407.1 L289.0,407.5 L292.0,408.1 L294.5,408.7 L296.9,409.1 L298.5,411.0 L300.6,412.0 L302.7,413.0 L305.3,412.2 L307.9,412.6 L310.5,413.0 L313.5,413.1 L316.4,412.0 L319.1,412.5 L321.3,414.0 L323.7,412.7 L326.2,411.1 L328.0,409.7 L330.1,408.1 L332.2,408.3 L333.9,410.0 L335.9,410.1 L338.5,410.5 L341.1,410.8 L343.8,410.1 L345.6,408.1 L347.7,406.2 L349.4,405.1 L350.2,403.1 L351.6,401.3 L353.5,400.4 L354.9,398.7 L356.4,397.4 L358.7,396.9 L360.8,395.6 L363.3,395.4 L365.4,395.8 L367.2,394.5 L368.1,397.0 L369.5,399.3 L371.5,398.3 L373.1,396.9 L375.0,395.4 L377.9,395.0 L380.9,395.4 L382.6,394.0 L384.8,393.3 L386.7,392.5 L388.7,392.2 L390.6,391.9 L392.5,390.4 L394.5,390.5 L396.4,389.6 L398.3,388.5 L400.5,388.9 L402.3,387.6 L404.9,387.4 L407.5,386.8 L410.2,386.6 L412.0,385.5 L414.2,385.8 L416.2,384.8 L418.0,383.7 L420.0,383.0 L421.7,381.8 L424.0,382.2 L425.8,380.8 L427.3,379.6 L428.2,377.1 L429.7,375.9 L431.6,374.7 L433.4,373.6 L435.5,373.0 L437.5,372.5 L439.4,371.7 L441.4,371.0 L443.8,370.8 L445.9,369.5 L447.7,370.3 L448.8,372.4 L450.8,370.5 L452.3,368.8 L453.7,366.6 L455.6,366.0 L457.4,364.8 L459.5,364.7 L461.5,364.6 L462.9,362.7 L463.0,360.2 L464.4,358.8 L465.2,356.5 L465.9,354.3 L466.4,351.9 L469.3,353.9 L471.5,353.2 L473.4,351.3 L475.2,350.0 L478.1,349.3 L481.0,349.0 L482.8,347.9 L485.0,348.1 L486.8,347.1 L488.8,347.0 L491.8,346.8 L494.7,346.1 L496.1,344.0 L497.2,341.6 L498.6,339.2 L500.9,337.9 L502.5,336.3 L505.5,336.5 L508.4,335.3 L509.9,333.4 L511.0,335.4 L510.9,338.1 L511.9,339.9 L512.3,342.1 L514.4,344.2 L517.1,345.1 L519.3,347.0 L522.0,348.0 L524.1,347.0 L526.1,346.5 L527.9,345.1 L530.5,345.4 L533.1,345.0 L535.7,345.1 L538.3,346.0 L540.9,345.3 L543.5,345.1 L545.4,344.6 L547.5,344.4 L549.2,343.0 L551.3,343.1 L553.6,343.0 L555.9,342.1 L558.2,342.1 L559.8,339.7 L561.1,337.5 L562.1,335.3 L562.5,333.3 L563.0,330.7 L564.1,329.1 L565.1,327.1 L565.9,324.9 L566.0,322.6 L567.6,324.2 L569.9,325.5 L571.3,323.7 L573.0,322.3 L574.8,320.7 L575.9,319.0 L577.1,317.4 L577.5,315.2 L579.0,314.1 L579.6,311.9 L581.4,311.1 L583.7,311.2 L585.5,309.9 L587.9,311.3 L590.4,312.9 L591.8,314.3 L593.2,315.6 L594.4,317.7 L596.2,318.7 L598.2,318.3 L600.2,317.8 L602.2,317.2 L604.1,316.8 L606.7,317.1 L609.2,318.2 L611.9,317.7 L613.7,316.8 L615.6,315.9 L617.7,315.8 L619.1,314.3 L619.7,311.9 L622.1,310.3 L624.6,308.9 L625.2,306.7 L627.1,304.7 L627.9,302.5 L628.2,300.2 L629.5,298.5 L631.1,297.0 L632.3,295.3 L633.5,293.6 L635.3,292.2 L636.3,290.2 L637.8,288.4 L639.5,287.1 L642.4,287.6 L645.4,288.1 L647.4,288.9 L649.3,290.1 L651.3,289.4 L653.1,288.8 L655.2,288.8 L657.1,288.1 L659.5,288.6 L662.0,288.4 L664.5,288.6 L666.9,288.1 L669.4,288.3 L671.7,287.6 L674.1,287.3 L676.6,287.1 L678.8,286.3 L680.4,285.0 L682.4,283.6 L684.5,283.2 L686.7,281.9 L688.6,280.0 L690.3,278.4 L692.2,277.9 L694.0,276.6 L696.2,277.4 L698.1,276.4 L700.4,277.2 L703.0,277.4 L704.3,275.3 L705.6,272.9 L706.9,270.5 L707.8,268.1 L708.9,266.0 L710.6,264.7 L711.8,262.7 L713.8,261.2 L715.5,259.6 L717.7,258.8 L719.8,259.1 L721.7,258.1 L723.4,257.1 L725.5,256.9 L727.4,256.3 L729.3,255.2 L731.4,254.6 L733.3,253.9 L735.3,253.2 L737.3,253.4 L739.1,252.0 L741.1,252.0 L743.0,252.7 L745.1,252.3 L746.9,253.1 L748.9,253.9 L751.1,253.6 L753.0,252.4 L754.8,251.0 L756.2,249.1 L757.5,247.2 L758.7,245.2 L761.5,244.4 L763.6,242.2 L766.0,243.2 L768.0,244.7 L770.4,245.2 L772.5,244.5 L774.5,243.9 L776.2,242.2 L778.7,242.1 L781.2,241.5 L783.6,240.8 L786.0,240.3 L788.0,240.8 L790.1,241.1 L791.8,242.7 L793.8,243.2 L795.6,242.2 L797.8,241.3 L799.7,240.5 L801.6,239.3 L803.6,238.5 L805.8,238.6 L807.6,237.5 L809.5,236.4 L811.7,235.1 L814.6,235.8 L817.6,235.9 L818.3,234.0 L818.7,231.7 L819.7,233.6 L820.0,235.9 L822.1,235.5 L824.0,236.2 L826.1,236.9 L828.0,237.3 L830.0,237.6 L831.3,239.4 L833.0,240.7 L834.9,241.4 L836.8,242.6 L839.0,243.7 L841.4,244.0 L843.4,245.1 L845.1,243.6 L847.0,242.6 L849.2,241.8 L851.0,240.9 L852.6,242.5 L854.8,243.2 L856.8,244.2 L859.1,244.8 L861.2,246.2 L863.5,246.8 L865.6,247.8 L867.5,248.5 L869.3,250.1 L871.6,251.7 L873.5,254.3 L875.8,254.6 L878.0,255.5 L880.2,255.9 L882.2,256.1 L884.1,257.2 L886.2,256.2 L888.2,256.5 L890.2,256.8 L892.3,257.8 L894.7,258.2 L896.9,258.4 L899.1,257.9 L901.0,256.8 L902.7,258.4 L904.9,258.3 L906.9,259.3 L908.9,260.7 L911.1,261.8 L912.6,260.1 L914.5,259.4 L916.1,258.4 L917.7,256.8 L919.4,254.9 L921.1,253.4 L924.0,253.1 L926.9,252.6 L929.3,253.4 L931.9,253.4 L934.1,252.1 L935.3,249.3 L937.0,252.6 L939.5,253.1 L942.0,253.4 L944.5,255.9 L946.1,259.3" fill="none" stroke="#ee6a66" stroke-width="0.8" stroke-opacity="0.75" stroke-linejoin="round"/>
<path d="M107.3,466.5 L107.3,434.5 L108.0,433.2 L111.6,433.2 L112.3,434.5 L112.3,455.0Z" fill="#ee4457" fill-opacity="0.9"/>
<rect x="107.3" y="434" width="5" height="32" fill="#e8344a" fill-opacity="0.22"/>
<g opacity="0.038"><text x="368" y="311" font-size="57" textLength="289" lengthAdjust="spacingAndGlyphs" fill="#000" stroke="#000" stroke-width="1.2" stroke-linejoin="round" class="sans">glassnode</text></g>
<path d="M71.1,390.9 L72.0,392.5 L72.0,394.4 L72.1,396.0 L72.8,393.7 L73.0,392.2 L74.6,393.9 L74.8,395.1 L74.9,397.3 L74.3,399.2 L75.0,400.9 L76.2,402.4 L77.1,400.5 L77.4,399.2 L78.5,400.8 L80.0,401.1 L81.9,401.7 L82.0,403.5 L81.9,404.3 L81.8,406.5 L83.0,407.3 L82.8,409.4 L82.0,410.9 L82.4,412.9 L82.5,414.4 L83.3,415.8 L83.2,417.5 L82.4,418.1 L84.1,419.7 L82.3,421.5 L83.1,422.9 L83.5,424.6 L83.6,422.8 L83.4,421.4 L84.1,420.2 L84.4,418.6 L84.9,417.1 L84.6,414.5 L84.4,413.2 L85.6,412.2 L86.1,410.1 L85.7,408.1 L86.9,407.5 L86.8,409.0 L86.8,411.2 L88.3,412.1 L88.2,414.4 L89.5,417.0 L89.0,419.3 L91.0,420.3 L90.6,421.3 L90.8,423.3 L91.4,425.3 L90.4,426.5 L91.3,428.2 L91.3,430.3 L92.0,432.2 L93.7,431.2 L93.9,428.4 L94.8,430.7 L96.0,431.1 L96.5,433.5 L96.9,434.5 L98.4,436.0 L98.2,437.5 L99.0,439.2 L100.1,441.1 L99.7,442.9 L98.6,444.0 L99.7,445.7 L99.4,447.4 L99.7,449.0 L99.1,450.6 L100.3,452.3 L100.9,453.4 L99.4,455.4 L100.6,456.9 L100.9,454.7 L100.9,453.7 L100.3,452.0 L101.8,449.9 L102.0,448.7 L102.0,447.1 L102.7,448.5 L103.6,450.2 L104.9,451.0 L106.4,451.8 L105.5,454.9 L106.9,455.7 L106.7,457.4 L107.7,458.9 L107.9,460.8 L108.1,459.1 L108.4,457.1 L109.9,455.3 L109.8,454.0 L110.7,452.9 L110.9,450.6 L112.6,449.6 L112.7,448.1 L113.2,446.0 L114.9,444.9 L115.8,443.0 L115.5,441.5 L117.0,440.3 L116.8,438.6 L117.8,436.8 L116.9,435.6 L118.4,434.1 L117.2,431.9 L118.0,430.9 L118.5,428.9 L119.5,428.2 L118.5,425.6 L120.3,424.7 L120.0,422.7 L121.9,424.6 L122.2,426.6 L123.8,428.4 L125.5,427.7 L126.9,429.0 L126.7,430.4 L128.1,431.8 L128.2,433.5 L128.8,434.8 L128.2,436.3 L129.5,437.9 L129.5,436.2 L131.4,434.8 L133.1,435.1 L133.9,433.4 L135.2,432.2 L135.3,434.0 L137.1,435.4 L139.6,434.1 L141.7,434.0 L143.4,432.2 L145.1,432.8 L146.9,432.0 L148.5,432.8 L150.1,431.3 L151.9,432.0 L153.6,431.6 L155.1,430.1 L156.2,429.5 L157.2,428.3 L157.4,425.9 L159.7,425.8 L161.2,424.0 L160.9,422.4 L161.8,420.7 L163.4,420.0 L163.6,418.8 L164.4,417.0 L165.7,415.7 L166.1,414.5 L167.6,413.2 L168.2,411.8 L168.6,409.4 L169.5,408.1 L170.0,407.0 L169.8,405.3 L171.8,404.5 L171.4,402.4 L170.8,403.4 L171.3,405.9 L172.7,406.6 L172.3,408.5 L172.1,410.0 L171.4,411.0 L173.1,412.6 L173.0,414.0 L171.3,416.5 L172.4,417.6 L171.8,415.8 L172.6,414.0 L173.0,412.8 L173.8,410.9 L173.9,409.4 L174.6,407.3 L175.8,405.9 L177.7,404.9 L179.8,404.6 L181.5,403.6 L183.6,403.4 L184.7,405.5 L186.2,406.9 L186.8,408.8 L188.5,410.0 L190.4,409.6 L191.4,407.6 L193.0,406.8 L194.5,405.8 L196.0,404.3 L197.4,403.4 L199.0,401.9 L200.6,401.2 L202.6,401.5 L204.5,400.2 L206.5,401.2 L206.8,399.5 L207.4,397.0 L208.8,395.7 L209.3,394.6 L208.5,392.3 L208.8,391.1 L210.5,390.0 L211.3,388.4 L211.7,386.7 L210.9,384.8 L212.3,383.5 L211.8,381.2 L214.0,380.2 L213.1,378.2 L215.3,377.3 L214.0,375.9 L214.8,374.5 L216.5,373.3 L217.6,371.7 L217.2,369.8 L218.3,367.9 L218.8,366.9 L219.2,364.9 L219.2,363.6 L220.1,362.5 L219.1,359.8 L220.6,358.9 L220.3,356.4 L220.7,355.2 L221.7,353.5 L222.6,351.8 L222.0,349.9 L222.3,348.2 L222.1,346.5 L224.3,345.1 L223.6,343.3 L224.4,341.5 L224.4,340.5 L224.6,338.7 L224.4,337.3 L225.5,335.3 L224.0,334.2 L226.0,332.6 L225.2,331.2 L225.5,329.4 L224.9,327.5 L225.0,326.3 L225.4,324.4 L226.3,323.7 L225.6,321.8 L225.9,320.4 L226.4,318.2 L225.7,316.3 L226.4,315.2 L225.8,313.6 L226.6,312.2 L227.0,314.0 L227.5,315.8 L226.8,316.9 L226.8,318.7 L226.1,319.9 L226.9,321.6 L226.1,322.8 L226.4,325.0 L227.0,325.7 L227.5,327.7 L226.6,329.5 L226.2,330.3 L227.7,331.8 L227.8,333.8 L226.3,335.6 L227.7,337.1 L227.2,338.2 L227.8,339.6 L227.0,340.8 L228.6,343.0 L228.3,344.0 L227.8,346.0 L229.3,347.0 L228.5,348.8 L228.5,350.3 L227.9,348.8 L229.6,347.0 L228.8,345.1 L228.2,344.1 L227.9,342.8 L229.7,340.4 L229.9,339.1 L229.6,337.9 L228.6,336.2 L229.4,334.8 L228.6,333.1 L230.2,331.5 L229.3,329.3 L229.3,328.1 L230.6,326.2 L230.9,327.7 L230.6,329.8 L231.2,330.8 L231.3,333.0 L231.9,334.4 L233.1,333.0 L235.1,331.9 L236.8,330.8 L238.2,330.0 L238.0,331.7 L239.8,333.6 L239.9,335.4 L240.8,337.0 L242.2,337.9 L243.9,338.2 L244.9,339.4 L246.1,341.5 L245.8,343.3 L245.5,345.0 L245.8,346.3 L247.1,347.6 L246.0,349.0 L247.1,350.9 L247.3,349.0 L248.1,347.7 L247.4,346.0 L248.1,344.9 L247.9,343.3 L248.4,341.4 L249.8,340.0 L251.6,340.8 L253.1,338.6 L255.4,338.9 L256.9,338.0 L256.9,335.2 L258.5,334.4 L259.2,333.3 L260.8,332.5 L261.1,330.6 L262.7,330.8 L264.3,331.3 L265.9,330.7 L267.4,331.3 L267.6,333.1 L268.5,334.3 L268.1,336.3 L269.1,334.3 L269.5,333.6 L270.2,331.5 L269.7,329.9 L270.0,328.1 L270.7,327.1 L271.2,324.8 L272.0,323.5 L271.9,322.1 L271.0,320.2 L272.5,318.6 L273.6,317.2 L274.2,315.5 L275.0,314.0 L274.5,312.3 L274.3,310.6 L275.8,309.0 L275.8,307.9 L276.7,305.4 L276.0,304.0 L276.9,302.6 L275.5,300.4 L276.2,298.5 L277.1,298.0 L276.9,296.2 L277.5,294.2 L278.1,292.3 L278.6,291.4 L278.9,290.0 L278.6,288.0 L278.9,287.2 L279.2,285.1 L279.2,283.7 L277.9,281.5 L278.9,280.6 L278.2,278.6 L278.6,277.4 L280.0,276.1 L279.6,274.6 L279.5,272.8 L280.7,271.3 L280.4,269.8 L280.0,268.5 L281.5,266.6 L281.0,265.1 L281.8,263.3 L281.9,262.0 L283.3,262.9 L282.0,264.7 L283.0,266.1 L283.3,267.9 L284.0,269.1 L283.7,270.6 L284.6,272.1 L284.4,274.1 L283.8,275.7 L283.1,273.3 L284.2,272.1 L285.0,270.1 L284.8,268.8 L285.1,270.2 L286.0,272.4 L285.7,273.0 L285.3,274.7 L285.0,276.5 L286.2,277.7 L285.0,279.6 L285.0,281.4 L284.7,282.8 L285.8,284.5 L285.6,282.4 L287.2,281.3 L286.6,278.8 L287.2,277.6 L288.3,276.6 L288.7,273.9 L289.2,272.7 L289.0,269.9 L290.7,268.8 L292.2,269.1 L292.6,271.3 L295.1,272.7 L296.9,273.1 L297.5,274.7 L297.4,276.2 L297.9,278.0 L299.5,279.1 L299.7,281.3 L300.3,282.0 L301.9,283.5 L302.2,281.8 L304.1,280.1 L303.9,278.6 L306.3,280.1 L307.9,281.9 L308.7,283.5 L310.0,285.1 L310.1,287.5 L310.2,289.3 L312.1,290.3 L311.4,292.0 L311.9,294.5 L312.6,296.2 L313.5,294.6 L313.9,292.6 L313.0,290.6 L314.0,289.2 L313.6,287.4 L315.6,288.4 L316.9,288.9 L317.5,290.8 L320.0,290.8 L321.2,289.3 L322.0,287.3 L322.4,285.4 L323.0,283.3 L324.0,281.6 L324.1,280.6 L324.8,278.6 L326.3,279.1 L327.0,280.6 L328.3,282.5 L329.4,281.4 L331.2,280.6 L333.1,280.1 L335.0,281.3 L337.1,281.0 L338.7,282.7 L341.0,283.0 L341.2,285.6 L342.9,286.9 L345.0,287.2 L346.8,288.4 L348.5,289.0 L348.0,291.2 L349.8,292.3 L350.9,293.7 L352.2,295.7 L353.7,297.2 L354.0,298.3 L354.1,300.6 L353.9,299.0 L355.3,297.2 L355.6,296.2 L357.7,295.9 L358.6,295.0 L359.9,293.5 L361.6,293.0 L363.3,294.1 L364.7,295.4 L366.4,295.9 L367.6,296.8 L369.4,297.4 L369.6,299.7 L371.3,300.8 L373.1,301.9 L373.8,303.3 L374.9,303.9 L375.2,305.7 L376.1,307.6 L375.5,309.2 L375.5,311.1 L376.7,312.3 L376.8,313.4 L376.2,315.7 L376.5,316.9 L377.4,318.7 L377.8,320.4 L378.6,318.3 L378.1,316.8 L377.9,315.0 L379.7,313.4 L379.5,311.6 L381.4,311.4 L383.0,309.5 L385.0,309.6 L387.0,309.0 L387.3,306.6 L388.2,305.1 L389.9,304.7 L390.5,306.7 L391.8,307.8 L393.4,308.3 L394.8,308.6 L396.2,309.3 L397.2,311.4 L398.7,311.7 L400.6,311.6 L402.3,311.9 L404.0,312.8 L405.5,311.1 L407.1,309.8 L408.8,311.0 L410.4,310.6 L411.9,310.1 L412.9,308.5 L414.6,307.9 L416.2,307.7 L417.0,306.5 L418.6,305.4 L418.5,303.3 L420.2,302.8 L421.5,303.2 L423.1,304.4 L423.5,306.6 L425.0,306.7 L425.2,309.0 L427.2,308.5 L428.3,309.9 L428.9,311.4 L429.9,312.5 L431.8,312.3 L433.8,311.4 L435.8,311.6 L437.5,312.2 L438.4,309.8 L440.0,309.9 L441.3,308.2 L440.7,306.7 L442.2,305.2 L442.9,304.1 L442.5,302.0 L444.5,301.3 L445.4,300.4 L445.9,298.1 L444.7,296.0 L445.9,295.3 L446.8,296.5 L448.2,297.8 L448.9,299.0 L448.8,301.1 L449.0,299.7 L450.0,297.7 L450.0,296.0 L451.9,295.3 L453.1,294.2 L452.5,291.3 L453.7,290.4 L455.5,291.6 L457.6,291.4 L459.5,291.4 L460.6,292.5 L462.5,292.8 L463.0,295.7 L464.4,296.2 L466.2,296.2 L467.3,295.5 L468.9,294.6 L469.8,292.9 L471.2,292.3 L472.8,291.2 L474.4,293.2 L476.0,292.3 L477.5,291.9 L479.1,292.3 L480.8,292.5 L482.5,292.1 L483.7,290.8 L485.3,291.0 L486.9,290.4 L489.0,291.3 L490.8,289.5 L492.7,289.4 L493.6,288.0 L494.2,286.0 L495.5,285.4 L495.0,283.0 L496.6,281.6 L496.9,280.0 L498.6,279.3 L498.7,276.7 L499.9,275.3 L499.6,273.8 L500.8,275.7 L501.9,276.6 L502.5,278.7 L504.1,280.2 L505.8,278.2 L507.4,278.7 L508.8,279.7 L509.8,282.2 L510.3,283.6 L511.5,281.8 L513.2,281.3 L515.0,282.1 L516.8,282.0 L518.1,280.6 L519.7,280.5 L521.2,280.2 L522.7,278.8 L524.3,279.5 L525.9,279.6 L527.4,278.2 L528.5,277.7 L529.9,276.5 L531.8,275.7 L533.0,275.0 L534.9,275.0 L535.9,272.7 L537.7,273.3 L539.5,272.4 L540.2,271.1 L542.5,270.6 L543.5,269.4 L545.2,268.1 L544.7,265.4 L545.5,264.7 L546.4,262.5 L547.2,263.5 L547.8,264.8 L547.7,267.3 L548.6,267.8 L547.1,270.6 L548.4,271.3 L550.2,270.5 L550.1,269.3 L551.3,268.0 L552.0,265.9 L553.3,265.5 L554.2,264.2 L556.0,263.4 L556.6,261.6 L557.7,260.3 L559.5,259.2 L560.1,257.7 L560.7,259.8 L561.0,260.8 L561.5,263.2 L563.9,263.4 L564.0,265.5 L564.4,263.2 L566.8,263.0 L567.6,261.1 L567.9,259.6 L568.5,258.2 L570.8,258.7 L571.8,257.0 L572.8,255.7 L573.9,254.1 L574.0,252.9 L573.7,251.3 L574.7,250.0 L575.3,248.4 L575.9,247.3 L576.7,245.9 L578.3,245.2 L578.6,243.4 L578.0,241.6 L578.5,239.1 L579.6,238.1 L579.8,236.8 L580.0,234.9 L581.0,233.2 L582.5,231.7 L584.2,233.5 L585.1,234.9 L587.3,235.1 L589.5,235.5 L589.9,237.7 L589.4,239.3 L591.0,240.8 L591.4,242.5 L590.7,240.7 L592.6,239.7 L591.1,238.0 L592.0,236.7 L592.2,234.2 L592.7,233.0 L595.2,233.6 L595.6,232.4 L595.7,230.6 L596.6,228.5 L596.0,226.8 L596.6,225.0 L597.1,223.5 L597.9,222.3 L598.1,219.8 L598.4,218.4 L600.3,219.0 L601.0,216.9 L602.6,215.9 L603.5,217.5 L604.8,219.7 L605.9,221.1 L605.7,222.6 L605.5,225.4 L605.8,226.6 L606.4,225.4 L607.5,224.3 L607.3,222.2 L608.9,221.4 L609.3,219.5 L609.8,218.4 L611.1,216.9 L610.8,215.5 L610.9,212.9 L612.6,212.1 L612.4,210.1 L614.9,208.9 L614.7,206.4 L615.9,205.0 L617.5,204.0 L617.5,202.5 L618.6,203.9 L618.7,205.8 L619.4,207.6 L620.1,206.2 L620.0,203.8 L621.6,203.1 L620.0,200.8 L621.3,199.4 L622.2,198.5 L621.1,195.6 L622.3,194.7 L623.6,193.8 L622.7,191.5 L623.6,190.6 L623.8,188.6 L623.4,186.8 L623.4,185.4 L623.5,184.2 L624.8,182.3 L624.1,180.2 L625.2,179.5 L625.5,177.3 L625.7,175.9 L627.6,174.7 L627.6,172.1 L627.8,173.3 L628.6,175.5 L629.2,176.6 L628.4,178.1 L628.9,179.7 L629.3,182.3 L630.8,183.5 L631.9,182.2 L630.8,179.4 L631.6,178.0 L632.0,176.5 L633.2,178.1 L633.6,179.5 L632.6,180.7 L634.0,182.2 L633.6,183.8 L635.5,184.5 L636.4,186.1 L635.9,187.9 L637.1,189.8 L637.8,191.1 L637.2,192.3 L638.4,194.2 L639.0,195.6 L639.0,197.8 L639.0,198.8 L639.4,200.7 L639.0,202.5 L639.4,200.7 L640.0,199.2 L640.2,198.1 L639.4,196.5 L640.1,194.8 L640.8,193.4 L640.9,191.7 L641.7,189.3 L642.8,187.9 L642.9,190.1 L644.1,191.1 L644.5,189.3 L644.5,187.6 L645.4,185.4 L645.4,186.7 L645.5,189.1 L646.9,190.4 L647.0,191.1 L647.3,193.0 L647.7,194.7 L648.5,196.7 L649.8,198.1 L651.4,199.3 L650.7,201.6 L652.1,203.3 L653.0,204.4 L653.5,202.7 L654.4,201.5 L654.3,198.8 L656.1,198.1 L656.2,196.2 L657.5,195.0 L659.3,193.6 L660.4,195.6 L662.5,196.2 L662.6,198.5 L664.0,198.8 L666.2,199.6 L666.3,201.3 L667.2,203.0 L668.9,204.4 L670.2,205.7 L671.8,206.8 L672.7,208.2 L674.1,207.1 L674.7,205.5 L676.5,205.1 L676.8,203.5 L677.1,201.2 L677.7,199.5 L679.0,198.1 L679.8,199.6 L680.9,201.9 L682.5,203.2 L682.8,205.1 L682.8,207.0 L683.6,205.0 L685.4,205.6 L687.1,204.8 L687.9,203.2 L689.3,203.8 L690.5,205.7 L692.3,204.7 L694.2,205.1 L695.8,205.8 L697.5,206.5 L699.3,205.7 L700.8,205.5 L702.2,206.8 L703.8,206.3 L704.3,207.9 L705.7,208.7 L705.7,210.8 L704.9,212.8 L705.7,214.4 L707.4,215.4 L706.2,216.7 L707.0,218.4 L708.0,220.5 L708.9,221.6 L710.2,223.4 L711.5,224.7 L711.8,226.6 L712.4,224.9 L713.5,223.9 L715.2,222.5 L715.7,220.7 L716.8,221.9 L717.9,222.9 L719.6,223.6 L721.0,224.3 L722.6,223.9 L724.3,224.6 L725.5,225.6 L726.4,224.1 L728.1,223.5 L729.4,221.7 L731.5,222.4 L733.2,220.3 L735.2,220.7 L736.3,219.6 L737.9,217.9 L737.5,216.4 L739.1,214.8 L740.6,214.0 L741.8,212.5 L742.7,211.6 L744.0,210.0 L745.0,209.0 L744.9,207.3 L747.1,206.0 L746.0,203.7 L748.2,203.3 L748.2,202.2 L748.9,200.2 L750.1,199.0 L751.2,197.7 L751.5,196.7 L752.3,194.7 L753.8,194.4 L754.8,193.4 L756.3,191.8 L756.4,190.6 L756.9,189.1 L757.1,187.5 L756.6,185.8 L757.7,184.6 L758.5,186.2 L760.7,186.7 L761.6,188.5 L763.3,189.1 L763.4,191.2 L764.5,192.4 L765.7,190.6 L765.6,188.1 L767.5,187.5 L769.3,187.8 L770.6,189.3 L772.3,190.4 L774.3,191.1 L776.2,190.4 L776.7,192.4 L777.8,193.5 L779.0,194.4 L778.8,196.9 L780.2,198.2 L782.0,198.1 L783.4,199.2 L785.0,199.2 L785.9,197.1 L787.9,196.1 L788.0,194.3 L789.2,196.1 L790.6,196.6 L791.0,198.1 L791.2,200.3 L792.9,201.2 L794.8,200.9 L796.3,201.9 L796.9,204.5 L798.7,204.1 L798.9,202.5 L800.3,201.4 L801.3,200.1 L802.0,199.0 L803.6,198.2 L804.2,196.9 L805.3,195.6 L806.8,193.7 L808.5,193.4 L810.2,193.6 L811.9,193.3 L813.4,192.4 L814.1,193.4 L815.0,195.2 L816.3,196.3 L815.5,197.4 L817.6,199.3 L816.0,200.8 L816.6,202.4 L817.5,203.7 L817.3,204.8 L818.1,206.9 L818.4,208.1 L818.6,209.5 L818.0,211.5 L818.5,212.7 L820.0,211.6 L819.0,209.4 L819.2,207.8 L820.8,207.1 L821.2,205.5 L822.0,203.7 L823.0,202.5 L824.7,202.3 L825.9,201.6 L827.5,200.8 L827.4,198.7 L827.8,197.3 L830.0,196.5 L830.9,195.0 L831.4,193.7 L832.9,192.6 L834.4,192.8 L836.1,193.7 L837.6,192.9 L839.3,192.5 L840.8,193.0 L842.3,193.3 L844.0,192.8 L845.5,193.7 L846.8,193.1 L848.3,191.8 L849.4,191.3 L850.2,190.2 L851.0,188.2 L852.3,187.2 L854.4,187.6 L855.7,186.7 L856.9,188.6 L858.6,189.4 L859.6,190.6 L861.3,191.1 L862.6,189.0 L864.3,189.8 L865.9,189.3 L866.4,187.5 L868.4,187.3 L869.0,185.9 L869.1,184.5 L870.6,183.0 L872.7,182.5 L872.0,180.7 L873.7,179.6 L874.0,177.7 L876.1,177.2 L876.8,176.0 L876.5,173.9 L877.7,173.2 L878.4,171.8 L879.9,170.8 L881.6,170.2 L882.0,168.8 L884.0,167.7 L884.6,165.3 L884.7,163.9 L884.7,161.9 L884.9,161.1 L887.0,159.9 L886.7,157.3 L887.1,156.1 L887.4,154.0 L888.9,152.9 L888.0,151.7 L888.3,150.1 L889.4,148.2 L890.4,149.6 L891.4,151.1 L891.5,152.2 L891.6,154.1 L892.5,155.3 L892.6,153.3 L893.9,152.1 L895.0,151.3 L894.9,149.8 L894.7,147.8 L895.0,146.2 L896.4,145.0 L896.4,143.2 L897.2,142.0 L898.0,141.0 L898.7,139.6 L899.6,138.0 L900.4,139.6 L901.2,142.0 L901.1,140.6 L902.3,138.7 L903.0,137.7 L903.5,135.7 L905.6,135.7 L907.5,136.5 L908.6,134.9 L910.2,135.0 L911.4,134.1 L912.2,135.3 L913.0,136.9 L913.7,138.0 L915.0,137.2 L916.9,136.5 L918.2,138.4 L918.5,140.1 L918.8,141.1 L918.7,143.8 L919.2,145.1 L919.3,147.4 L919.9,148.2 L921.6,149.8 L923.5,148.7 L925.5,149.0 L926.1,150.6 L927.1,152.3 L928.6,152.9 L930.0,154.4 L931.6,154.3 L933.3,153.7 L933.3,152.1 L934.1,149.7 L935.7,149.0 L937.1,147.8 L937.5,146.1 L938.0,145.1 L938.9,143.8 L940.0,142.2 L942.0,142.0 L944.0,141.7 L945.1,140.4 L945.5,142.4 L946.7,143.5" fill="none" stroke="#000" stroke-width="1.15" stroke-opacity="0.6" stroke-linejoin="round"/>
<rect x="718.5" y="301.5" width="213" height="43" fill="#fff" fill-opacity="0.5"/>
<path d="M718.5,344.5 H931.5" stroke="#4d6b4a" stroke-width="1" stroke-dasharray="2,2" fill="none"/>
<path d="M931.5,158 V344.5" stroke="#5c7a3a" stroke-width="1" stroke-dasharray="2,2" fill="none"/>
<text x="760.2" y="317.5" font-size="15.2" textLength="130.8" lengthAdjust="spacingAndGlyphs" font-weight="bold" fill="#1c8a5c" stroke="#1c8a5c" stroke-width="0.3" class="sans">Post March 2020</text>
<text x="724.1" y="337" font-size="15.2" textLength="203.2" lengthAdjust="spacingAndGlyphs" font-weight="bold" fill="#1c8a5c" stroke="#1c8a5c" stroke-width="0.3" class="sans">Reduction in Liquid Supply</text>
<g stroke="#d81b60" stroke-width="3.2" fill="none" stroke-linecap="round" stroke-linejoin="round"><path d="M90.5,396.3 L707.5,135.2"/><path d="M694,131 L707.5,135.2 L701.5,148"/></g>
<g stroke="#1a10b5" stroke-width="3.0" fill="none" stroke-linecap="round" stroke-linejoin="round"><path d="M719.5,133.5 L826.3,133.5"/><path d="M816.7,124.3 L826.3,133.5 L816.7,142.6"/></g>
<g stroke="#1fbf82" stroke-width="3.0" fill="none" stroke-linecap="round" stroke-linejoin="round"><path d="M838.5,129 L912.5,171.8"/><path d="M908.6,159.4 L912.5,171.8 L898.8,175.2"/></g>
<g stroke="#1fbf82" stroke-width="3.0" fill="none" stroke-linecap="round" stroke-linejoin="round"><path d="M924.8,153.6 L949,164"/><path d="M943.7,152.3 L949,164 L935.7,168.8"/></g>
<text x="402.9" y="140.8" font-size="14.6" textLength="125.6" lengthAdjust="spacingAndGlyphs" font-weight="bold" fill="#d81b60" stroke="#d81b60" stroke-width="0.3" class="sans">Macro Growth in</text>
<text x="396.7" y="160.4" font-size="14.6" textLength="138.9" lengthAdjust="spacingAndGlyphs" font-weight="bold" fill="#d81b60" stroke="#d81b60" stroke-width="0.3" class="sans">Liquid BTC Supply</text>
<text x="693.3" y="118.8" font-size="16.3" textLength="158.2" lengthAdjust="spacingAndGlyphs" font-weight="bold" fill="#1a10b5" stroke="#1a10b5" stroke-width="0.3" class="sans">Phase Shift 2019-20</text>
<text x="43.6" y="483.8" font-size="8.3" fill="#737373" class="sans ax">0</text>
<text x="43.6" y="448.5" font-size="8.3" fill="#737373" class="sans ax">500k</text>
<text x="43.6" y="413.2" font-size="8.3" fill="#737373" class="sans ax">1 000k</text>
<text x="43.6" y="378.0" font-size="8.3" fill="#737373" class="sans ax">1 500k</text>
<text x="43.6" y="342.7" font-size="8.3" fill="#737373" class="sans ax">2 000k</text>
<text x="43.6" y="307.4" font-size="8.3" fill="#737373" class="sans ax">2 500k</text>
<text x="43.6" y="272.1" font-size="8.3" fill="#737373" class="sans ax">3 000k</text>
<text x="43.6" y="236.8" font-size="8.3" fill="#737373" class="sans ax">3 500k</text>
<text x="43.6" y="201.6" font-size="8.3" fill="#737373" class="sans ax">4 000k</text>
<text x="43.6" y="166.3" font-size="8.3" fill="#737373" class="sans ax">4 500k</text>
<text x="43.6" y="131.0" font-size="8.3" fill="#737373" class="sans ax">5 000k</text>
<text x="972.7" y="125.2" font-size="8.3" text-anchor="end" fill="#737373" class="sans ax">$80k</text>
<text x="972.7" y="146.9" font-size="8.3" text-anchor="end" fill="#737373" class="sans ax">$40k</text>
<text x="972.7" y="191.2" font-size="8.3" text-anchor="end" fill="#737373" class="sans ax">$10k</text>
<text x="972.7" y="206.9" font-size="8.3" text-anchor="end" fill="#737373" class="sans ax">$6k</text>
<text x="972.7" y="241.9" font-size="8.3" text-anchor="end" fill="#737373" class="sans ax">$2k</text>
<text x="972.7" y="270.2" font-size="8.3" text-anchor="end" fill="#737373" class="sans ax">$800</text>
<text x="972.7" y="292.2" font-size="8.3" text-anchor="end" fill="#737373" class="sans ax">$400</text>
<text x="972.7" y="336.2" font-size="8.3" text-anchor="end" fill="#737373" class="sans ax">$100</text>
<text x="972.7" y="353.2" font-size="8.3" text-anchor="end" fill="#737373" class="sans ax">$60</text>
<text x="972.7" y="387.9" font-size="8.3" text-anchor="end" fill="#737373" class="sans ax">$20</text>
<text x="972.7" y="417.2" font-size="8.3" text-anchor="end" fill="#737373" class="sans ax">$8</text>
<text x="972.7" y="438.9" font-size="8.3" text-anchor="end" fill="#737373" class="sans ax">$4</text>
<text x="972.7" y="482.9" font-size="8.3" text-anchor="end" fill="#737373" class="sans ax">$1</text>
<text x="118.6" y="498.1" font-size="8" text-anchor="middle" fill="#727272" class="sans axb">2012</text>
<text x="204.1" y="498.1" font-size="8" text-anchor="middle" fill="#727272" class="sans axb">2013</text>
<text x="289.6" y="498.1" font-size="8" text-anchor="middle" fill="#727272" class="sans axb">2014</text>
<text x="375.1" y="498.1" font-size="8" text-anchor="middle" fill="#727272" class="sans axb">2015</text>
<text x="460.6" y="498.1" font-size="8" text-anchor="middle" fill="#727272" class="sans axb">2016</text>
<text x="546.1" y="498.1" font-size="8" text-anchor="middle" fill="#727272" class="sans axb">2017</text>
<text x="631.6" y="498.1" font-size="8" text-anchor="middle" fill="#727272" class="sans axb">2018</text>
<text x="717.1" y="498.1" font-size="8" text-anchor="middle" fill="#727272" class="sans axb">2019</text>
<text x="802.6" y="498.1" font-size="8" text-anchor="middle" fill="#727272" class="sans axb">2020</text>
<text x="888.1" y="498.1" font-size="8" text-anchor="middle" fill="#727272" class="sans axb">2021</text>
<circle cx="755" cy="95" r="2.9" fill="#3ea3dc"/><text x="762" y="96.9" font-size="8" textLength="23" lengthAdjust="spacingAndGlyphs" fill="#d9d9d9" class="sans lg">Illiquid</text>
<circle cx="802.5" cy="95" r="2.9" fill="#f7963c"/><text x="808.8" y="96.9" font-size="8" textLength="22.3" lengthAdjust="spacingAndGlyphs" fill="#505050" class="sans lg">Liquid</text>
<circle cx="848" cy="95" r="2.9" fill="#e5586a"/><text x="854.5" y="96.9" font-size="8" textLength="49.3" lengthAdjust="spacingAndGlyphs" fill="#505050" class="sans lg">Highly Liquid</text>
<circle cx="920.3" cy="95" r="2.9" fill="#777"/><text x="926.3" y="96.9" font-size="8" textLength="44" lengthAdjust="spacingAndGlyphs" fill="#505050" class="sans lg">Price [USD]</text>
<text x="36.8" y="555.6" font-size="10.2" textLength="174.4" lengthAdjust="spacingAndGlyphs" fill="#989898" stroke="#989898" stroke-width="0.2" class="sans">© 2021 Glassnode. All Rights Reserved.</text>
<text x="907.3" y="556.4" font-size="16.7" textLength="81.4" lengthAdjust="spacingAndGlyphs" fill="#1d1d1f" stroke="#1d1d1f" stroke-width="0.75" stroke-linejoin="round" class="sans">glassnode</text>
</svg>
</body></html>
